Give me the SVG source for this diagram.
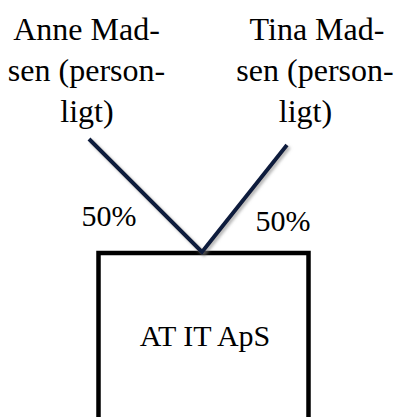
<svg xmlns="http://www.w3.org/2000/svg" width="396" height="417" viewBox="0 0 396 417">
<style>
.t{font-family:"Liberation Serif","Times New Roman",serif;fill:#000;text-anchor:middle}
.name{font-size:32px}
.pct{font-size:30px}
.box{fill:#fff;stroke:#000;stroke-width:4.5}
.conn{stroke:#111b3e;stroke-width:4;stroke-linecap:butt;fill:none}
</style>
<defs>
<filter id="sh" x="-20%" y="-20%" width="140%" height="140%">
<feDropShadow dx="2" dy="2" stdDeviation="1.5" flood-color="#808080" flood-opacity="0.6"/>
</filter>
</defs>
<rect width="396" height="417" fill="#fff"/>
<g id="anne">
<text class="t name" x="86.5" y="40">Anne Mad-</text>
<text class="t name" x="86.5" y="81">sen (person-</text>
<text class="t name" x="87" y="122">ligt)</text>
</g>
<g id="tina">
<text class="t name" x="317" y="40">Tina Mad-</text>
<text class="t name" x="315" y="81">sen (person-</text>
<text class="t name" x="305.5" y="122">ligt)</text>
</g>
<g id="atit">
<rect class="box" x="98.5" y="253" width="210" height="180"/>
<text class="t pct" x="205" y="346">AT IT ApS</text>
</g>
<g id="connectors">
<path class="conn" filter="url(#sh)" d="M89 139 L202 252 L287 145"/>
<text class="t pct" x="109" y="226">50%</text>
<text class="t pct" x="283" y="231">50%</text>
</g>
</svg>
